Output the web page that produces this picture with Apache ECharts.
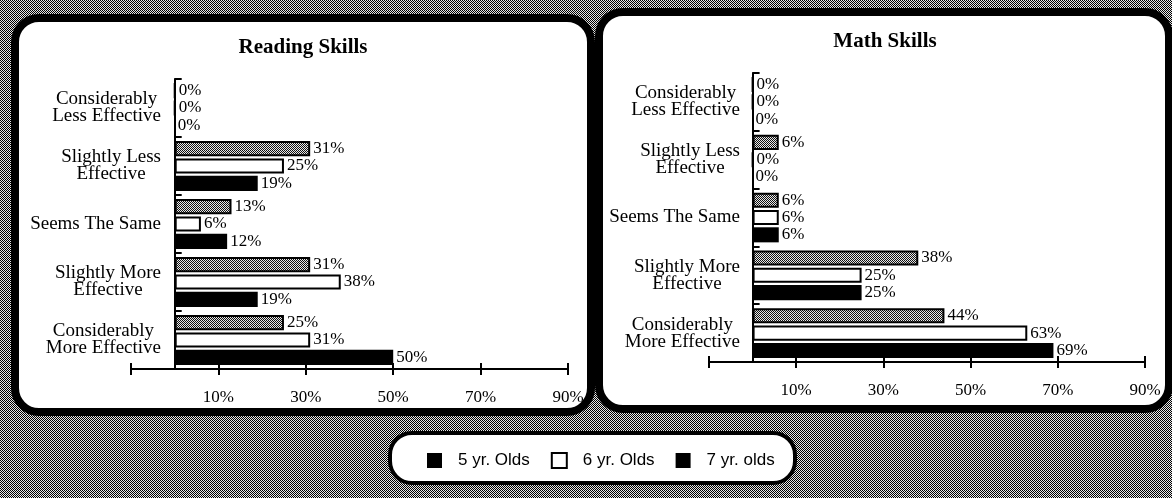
<!DOCTYPE html>
<html>
<head>
<meta charset="utf-8">
<script src="https://cdn.jsdelivr.net/npm/echarts@6/dist/echarts.min.js"></script>
<style>html,body{margin:0;padding:0;background:#fff}#c{width:1172px;height:498px}</style>
</head>
<body>
<div id="c"></div>
<script>
// ---- data ----
const categories = ['Considerably\nLess Effective', 'Slightly Less\nEffective', 'Seems The Same', 'Slightly More\nEffective', 'Considerably\nMore Effective'];
const seriesNames = ['5 yr. Olds', '6 yr. Olds', '7 yr. olds'];
const reading5 = [0, 31, 13, 31, 25];
const reading6 = [0, 25, 6, 38, 31];
const reading7 = [0, 19, 12, 19, 50];
const math5 = [0, 6, 6, 38, 44];
const math6 = [0, 0, 6, 25, 63];
const math7 = [0, 0, 6, 25, 69];
const tickValues = [-10, 10, 30, 50, 70, 90];
const tickLabels = [10, 30, 50, 70, 90];
const panelTitles = ['Reading Skills', 'Math Skills'];

// ---- textures ----
function makePattern(size, fn) {
  const c = document.createElement('canvas');
  c.width = size; c.height = size;
  const g = c.getContext('2d');
  for (let y = 0; y < size; y++) for (let x = 0; x < size; x++) {
    g.fillStyle = fn(x, y); g.fillRect(x, y, 1, 1);
  }
  return c;
}
const bgPattern = { image: makePattern(2, (x, y) => ((x + y) % 2 ? '#e6e6e6' : '#000000')), repeat: 'repeat' };
const barPattern = { image: makePattern(4, (x, y) => ((x + y) % 2 ? '#e8e8e8' : '#111111')), repeat: 'repeat' };

const serif = 'Liberation Serif';
const chart = echarts.init(document.getElementById('c'));

const grids = [
  { left: 131, top: 79, width: 437, height: 290 },
  { left: 709, top: 73, width: 436, height: 289 }
];
const zeroShift = [43, 44]; // distance from grid left (-10%) to the 0% line

function xAxes(gi) {
  return [
    {
      gridIndex: gi, type: 'value', position: 'bottom', min: -10, max: 90,
      axisLine: { show: true, lineStyle: { color: '#000', width: 2 } },
      axisTick: { show: true, customValues: tickValues, length: 6, lineStyle: { color: '#000', width: 2 } },
      axisLabel: { customValues: tickLabels, formatter: '{value}%', margin: 20, fontFamily: serif, fontSize: 17, color: '#000' },
      splitLine: { show: false }
    },
    {
      gridIndex: gi, type: 'value', position: 'bottom', offset: 0, min: -10, max: 90,
      axisLine: { show: false },
      axisTick: { show: true, inside: true, customValues: tickValues, length: 6, lineStyle: { color: '#000', width: 2 } },
      axisLabel: { show: false },
      splitLine: { show: false }
    }
  ];
}
function yAxis(gi) {
  return {
    gridIndex: gi, type: 'category', data: categories, inverse: true,
    axisLine: { show: true, onZero: true, lineStyle: { color: '#000', width: 2 } },
    axisTick: { show: true, inside: true, length: 7, lineStyle: { color: '#000', width: 2 } },
    axisLabel: {
      margin: 13 - zeroShift[gi], color: '#000', align: 'right',
      formatter: v => v.split('\n').map(s => '{c|' + s + '}').join('\n'),
      rich: { c: { align: 'center', fontFamily: serif, fontSize: 19, lineHeight: 17, color: '#000' } }
    }
  };
}
const styles = [
  { color: barPattern, borderColor: '#000', borderWidth: 2 },
  { color: '#fff', borderColor: '#000', borderWidth: 2 },
  { color: '#000', borderColor: '#000', borderWidth: 0 }
];
function bars(gi, arrs) {
  return arrs.map((d, i) => ({
    name: seriesNames[i], type: 'bar', xAxisIndex: gi * 2, yAxisIndex: gi, data: d,
    barGap: '15%', barCategoryGap: '14%',
    itemStyle: styles[i],
    label: { show: true, position: 'right', distance: 3, formatter: '{c}%', fontFamily: serif, fontSize: 17, color: '#000' }
  }));
}

chart.setOption({
  animation: false,
  grid: grids,
  xAxis: [...xAxes(0), ...xAxes(1)],
  yAxis: [yAxis(0), yAxis(1)],
  series: [...bars(0, [reading5, reading6, reading7]), ...bars(1, [math5, math6, math7])],
  legend: {
    left: 427, top: 452, padding: 0, itemWidth: 15, itemHeight: 15, itemGap: 21, icon: 'rect',
    textStyle: { fontFamily: 'Liberation Sans', fontSize: 17, color: '#000', padding: [0, 0, 0, 11] },
    data: [
      { name: seriesNames[0], itemStyle: { color: '#000', borderWidth: 0 } },
      { name: seriesNames[1], itemStyle: { color: '#fff', borderColor: '#000', borderWidth: 2 } },
      { name: seriesNames[2], itemStyle: { color: '#000', borderWidth: 0 } }
    ]
  },
  graphic: [
    { type: 'rect', z: -10, shape: { x: 0, y: 0, width: 1172, height: 498 }, style: { fill: bgPattern } },
    { type: 'rect', z: -5, shape: { x: 15, y: 18, width: 576, height: 394, r: 24 }, style: { fill: '#fff', stroke: '#000', lineWidth: 8 } },
    { type: 'rect', z: -5, shape: { x: 599, y: 12, width: 570, height: 397, r: 24 }, style: { fill: '#fff', stroke: '#000', lineWidth: 8 } },
    { type: 'rect', z: -5, shape: { x: 390, y: 433, width: 405, height: 50, r: 22 }, style: { fill: '#fff', stroke: '#000', lineWidth: 4 } },
    { type: 'text', z: 10, style: { x: 303, y: 48, text: panelTitles[0], textAlign: 'center', textVerticalAlign: 'middle', font: 'bold 21px "Liberation Serif"', fill: '#000' } },
    { type: 'text', z: 10, style: { x: 885, y: 42, text: panelTitles[1], textAlign: 'center', textVerticalAlign: 'middle', font: 'bold 21px "Liberation Serif"', fill: '#000' } }
  ]
});
</script>
</body>
</html>
